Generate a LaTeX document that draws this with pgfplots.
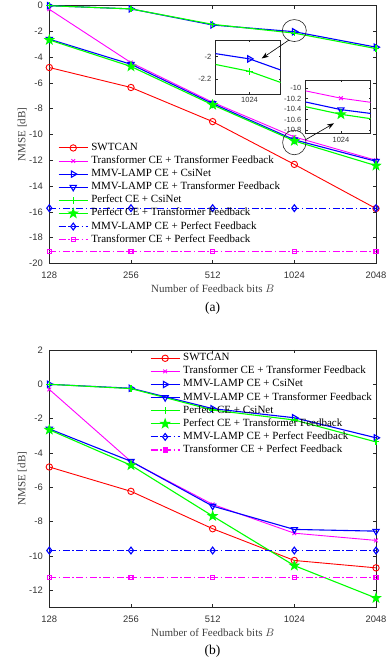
\documentclass[border=0pt]{standalone}
\usepackage{fontspec}
\setmainfont{Liberation Serif}
\newfontfamily\arialf{Liberation Sans}
\usepackage{pgfplots}
\usepackage{pgfplotstable}
\pgfplotsset{compat=1.18}
\usetikzlibrary{arrows.meta}

\definecolor{mred}{rgb}{1,0,0}
\definecolor{mmag}{rgb}{1,0,1}
\definecolor{mblue}{rgb}{0,0,1}
\definecolor{mgreen}{rgb}{0,1,0}

\pgfdeclareplotmark{pentagram}{%
 \pgfpathmoveto{\pgfpointpolar{90}{\pgfplotmarksize}}%
 \pgfpathlineto{\pgfpointpolar{126}{0.4\pgfplotmarksize}}%
 \pgfpathlineto{\pgfpointpolar{162}{\pgfplotmarksize}}%
 \pgfpathlineto{\pgfpointpolar{198}{0.4\pgfplotmarksize}}%
 \pgfpathlineto{\pgfpointpolar{234}{\pgfplotmarksize}}%
 \pgfpathlineto{\pgfpointpolar{270}{0.4\pgfplotmarksize}}%
 \pgfpathlineto{\pgfpointpolar{306}{\pgfplotmarksize}}%
 \pgfpathlineto{\pgfpointpolar{342}{0.4\pgfplotmarksize}}%
 \pgfpathlineto{\pgfpointpolar{18}{\pgfplotmarksize}}%
 \pgfpathlineto{\pgfpointpolar{54}{0.4\pgfplotmarksize}}%
 \pgfpathclose
 \pgfusepathqfillstroke
}

% x: 0=128, 1=256, 2=512, 3=1024, 4=2048
\pgfplotstableread{
x swt ttf mcs mtf pcs ptf mpf tpf
0 -4.80 -0.28 0.00 -2.60 0.00 -2.66 -15.72 -19.08
1 -6.35 -4.42 -0.25 -4.55 -0.25 -4.72 -15.72 -19.08
2 -9.00 -7.50 -1.50 -7.60 -1.45 -7.70 -15.72 -19.08
3 -12.32 -10.19 -2.02 -10.41 -2.13 -10.50 -15.72 -19.08
4 -15.75 -12.00 -3.22 -12.08 -3.33 -12.42 -15.72 -19.08
}\dataA

\pgfplotstableread{
x swt ttf mcs mtf pcs ptf mpf tpf
0 -4.82 -0.30 0.00 -2.60 0.00 -2.65 -9.69 -11.25
1 -6.24 -4.50 -0.23 -4.49 -0.25 -4.72 -9.69 -11.25
2 -8.42 -7.00 -1.42 -7.10 -1.50 -7.68 -9.69 -11.25
3 -10.27 -8.68 -1.95 -8.46 -2.08 -10.57 -9.69 -11.25
4 -10.70 -9.10 -3.12 -8.56 -3.36 -12.46 -9.69 -11.25
}\dataB

\newcommand{\legfont}{\fontsize{11}{13}\selectfont}

\pgfplotsset{
 sswt/.style={color=mred, line width=0.9pt, mark=o, mark size=3.2pt, mark options={solid}},
 sttf/.style={color=mmag, line width=0.9pt, mark=x, mark size=2.6pt, mark options={solid}},
 smcs/.style={color=mblue, line width=1.1pt, mark=triangle, mark size=3.6pt, mark options={solid, rotate=-90}},
 smtf/.style={color=mblue, line width=1.1pt, mark=triangle, mark size=3.6pt, mark options={solid, rotate=180}},
 spcs/.style={color=mgreen, line width=1.1pt, mark=+, mark size=3.2pt, mark options={solid}},
 sptf/.style={color=mgreen, line width=1.1pt, mark=pentagram, mark size=4.4pt, mark options={solid, fill=mgreen}},
 smpf/.style={color=mblue, line width=1.1pt, dash pattern=on 7pt off 2.5pt on 1.5pt off 2.5pt, mark=diamond, mark size=3.4pt, mark options={solid}},
 stpf/.style={color=mmag, line width=1.1pt, dash pattern=on 7pt off 2.5pt on 1.5pt off 2.5pt, mark=square, mark size=2pt, mark options={solid}},
 mainax/.style={
  scale only axis, width=326.7pt, anchor=south west,
  xmin=0, xmax=4, xtick={0,1,2,3,4}, xticklabels={128,256,512,1024,2048},
  tick align=inside, major tick length=3.5pt, xtick pos=both, ytick pos=both,
  axis line style={line width=0.6pt, black!85},
  every tick/.style={line width=0.5pt, black!85},
  tick label style={font=\arialf\fontsize{9.4}{10}\selectfont, black!80},
  yticklabel style={xshift=-3pt},
  xticklabel style={yshift=-5pt},
  /pgf/number format/assume math mode=true,
  label style={font=\fontsize{11}{13}\selectfont, black!75},
  xlabel={Number of Feedback bits $B$},
  ylabel={NMSE [dB]},
  xlabel style={at={(axis description cs:0.5,-0.1)}, anchor=center},
  ylabel style={at={(axis description cs:-0.0825,0.5)}, anchor=center},
  clip mode=individual,
  legend cell align=left,
  legend style={draw=none, fill=none, inner sep=0pt, row sep=3.1pt,
    font=\legfont,
    nodes={inner sep=0pt, text height=7.5pt, text depth=2.5pt, font=\legfont},
    cells={anchor=west}},
  legend image code/.code={%
    \draw[mark repeat=2,mark phase=2,##1] plot coordinates {(0pt,0pt) (14.5pt,0pt) (29pt,0pt)};
    \path (32pt,0pt);},
 },
 inset/.style={
  scale only axis, width=65pt, anchor=south west,
  xtick={3}, xticklabels={1024},
  tick align=inside, major tick length=2pt, xtick pos=both, ytick pos=both,
  axis line style={line width=0.6pt, black!85},
  every tick/.style={line width=0.5pt, black!85},
  tick label style={font=\arialf\fontsize{7.5}{8}\selectfont, black!80},
  yticklabel style={xshift=-1pt, /pgf/number format/fixed, /pgf/number format/precision=1},
  /pgf/number format/assume math mode=true,
  axis background/.style={fill=white},
 },
}

\begin{document}
\begin{tikzpicture}
\path[use as bounding box] (0pt,0pt) rectangle (387pt,661pt);

% ---------------- (a) ----------------
\begin{axis}[mainax, at={(49.3pt,397.7pt)}, height=257.6pt,
  ymin=-20, ymax=0, ytick={-20,-18,...,0},
  legend style={at={(0.0266,0.468)}, anchor=north west}]
\addplot[sswt] table[x=x,y=swt]{\dataA}; \addlegendentry{SWTCAN}
\addplot[sttf] table[x=x,y=ttf]{\dataA}; \addlegendentry{Transformer CE + Transformer Feedback}
\addplot[smcs] table[x=x,y=mcs]{\dataA}; \addlegendentry{MMV-LAMP CE + CsiNet}
\addplot[smtf] table[x=x,y=mtf]{\dataA}; \addlegendentry{MMV-LAMP CE + Transformer Feedback}
\addplot[spcs] table[x=x,y=pcs]{\dataA}; \addlegendentry{Perfect CE + CsiNet}
\addplot[sptf] table[x=x,y=ptf]{\dataA}; \addlegendentry{Perfect CE + Transformer Feedback}
\addplot[smpf] table[x=x,y=mpf]{\dataA}; \addlegendentry{MMV-LAMP CE + Perfect Feedback}
\addplot[stpf] table[x=x,y=tpf]{\dataA}; \addlegendentry{Transformer CE + Perfect Feedback}
\draw[line width=0.6pt, black!85] (axis cs:3,-1.93) ellipse [x radius=12pt, y radius=11pt];
\draw[line width=0.6pt, black!85] (axis cs:3,-10.62) ellipse [x radius=11.7pt, y radius=12.3pt];
\end{axis}

% inset 1
\begin{axis}[inset, at={(215.7pt,567pt)}, height=54pt,
  xmin=2.911, xmax=3.082, ymin=-2.33, ymax=-1.853, ytick={-2.2,-2}]
\addplot[smcs] table[x=x,y=mcs]{\dataA};
\addplot[spcs] table[x=x,y=pcs]{\dataA};
\end{axis}

% inset 2
\begin{axis}[inset, at={(305.7pt,527.7pt)}, height=53.3pt,
  xmin=2.948, xmax=3.044, ymin=-10.865, ymax=-9.84, ytick={-10.8,-10.6,-10.4,-10.2,-10}]
\addplot[sttf] table[x=x,y=ttf]{\dataA};
\addplot[smtf] table[x=x,y=mtf]{\dataA};
\addplot[sptf] table[x=x,y=ptf]{\dataA};
\end{axis}

\draw[line width=0.6pt, -{Stealth[length=7pt,width=5pt]}] (289pt,621pt) -- (261.7pt,602.5pt);
\draw[line width=0.6pt, -{Stealth[length=7pt,width=5pt]}] (306pt,521.5pt) -- (334pt,537.7pt);

\node[font=\fontsize{13.5}{15}\selectfont] at (212.5pt,353pt) {(a)};

% ---------------- (b) ----------------
\begin{axis}[mainax, at={(49.3pt,53.7pt)}, height=257.3pt,
  ymin=-13, ymax=2, ytick={-12,-10,...,2},
  legend style={at={(0.308,0.988)}, anchor=north west}]
\addplot[sswt] table[x=x,y=swt]{\dataB}; \addlegendentry{SWTCAN}
\addplot[sttf] table[x=x,y=ttf]{\dataB}; \addlegendentry{Transformer CE + Transformer Feedback}
\addplot[smcs] table[x=x,y=mcs]{\dataB}; \addlegendentry{MMV-LAMP CE + CsiNet}
\addplot[smtf] table[x=x,y=mtf]{\dataB}; \addlegendentry{MMV-LAMP CE + Transformer Feedback}
\addplot[spcs] table[x=x,y=pcs]{\dataB}; \addlegendentry{Perfect CE + CsiNet}
\addplot[sptf] table[x=x,y=ptf]{\dataB}; \addlegendentry{Perfect CE + Transformer Feedback}
\addplot[smpf] table[x=x,y=mpf]{\dataB}; \addlegendentry{MMV-LAMP CE + Perfect Feedback}
\addplot[stpf] table[x=x,y=tpf]{\dataB}; \addlegendentry{Transformer CE + Perfect Feedback}
\end{axis}

\node[font=\fontsize{13.5}{15}\selectfont] at (212.5pt,9.3pt) {(b)};
\end{tikzpicture}
\end{document}
